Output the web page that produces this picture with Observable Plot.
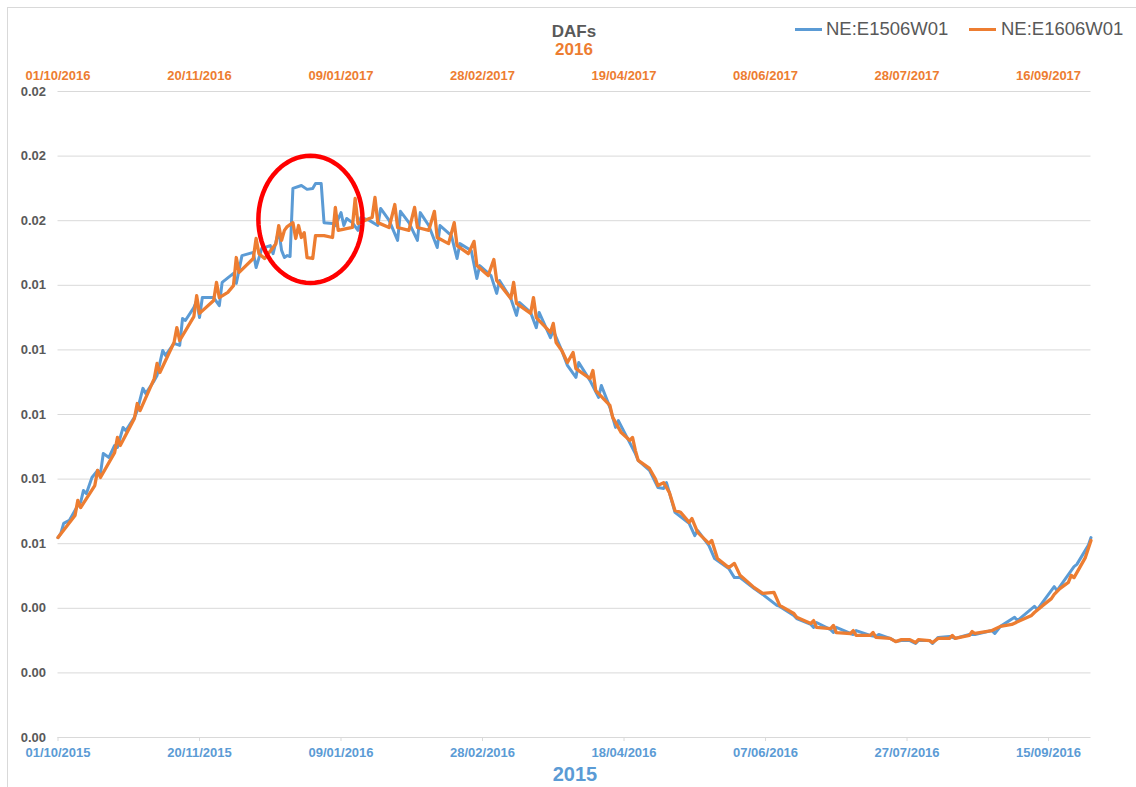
<!DOCTYPE html>
<html><head><meta charset="utf-8">
<script src="https://cdn.jsdelivr.net/npm/d3@7"></script>
<script src="https://cdn.jsdelivr.net/npm/@observablehq/plot@0.6"></script>
<style>
body{margin:0;background:#fff;font-family:"Liberation Sans",Arial,sans-serif;}
#wrap{position:relative;width:1136px;height:787px;overflow:hidden;background:#fff;}
#chart{position:absolute;left:0;top:0;}
#frame{position:absolute;left:7px;top:7px;width:1140px;height:800px;border:1px solid #d9d9d9;pointer-events:none;}
.ov{position:absolute;white-space:nowrap;}
.title{font-weight:bold;font-size:17px;line-height:17px;transform:translateX(-50%);}
.leg{font-size:18.5px;line-height:18px;color:#595959;}
.sw{position:absolute;height:3px;}
</style>
</head><body>
<div id="wrap">
  <div id="chart"></div>
  <div id="frame"></div>
  <div class="ov title" style="left:574px;top:23px;color:#595959;">DAFs</div>
  <div class="ov title" style="left:574px;top:41px;color:#ed7d31;">2016</div>
  <div class="sw" style="left:795px;top:28px;width:27px;background:#5b9bd5;"></div>
  <div class="ov leg" style="left:826px;top:20px;">NE:E1506W01</div>
  <div class="sw" style="left:969px;top:28px;width:27px;background:#ed7d31;"></div>
  <div class="ov leg" style="left:1001px;top:20px;">NE:E1606W01</div>
  <div class="ov" style="left:575px;top:764px;transform:translateX(-50%);font-weight:bold;font-size:20px;line-height:20px;color:#5b9bd5;">2015</div>
</div>
<script>
// ---- data ----
const startDate = "2015-10-01";
const seriesNames = ["NE:E1506W01", "NE:E1606W01"];

const blueDay = [0,1,2,4,6,7,8,9,10,12,14,15,16,18,20,21,23,24,27,28,30,31,34,35,37,38,41,43,44,45,48,49,50,51,55,57,58,62,63,65,69,70,72,75,76,78,79,80,81,82,83,86,88,90,91,93,94,97,98,100,101,102,104,106,107,110,113,114,117,120,121,124,127,128,131,134,135,139,141,142,146,148,149,153,155,156,160,162,163,167,169,170,174,175,178,180,183,184,188,191,192,195,197,198,202,204,205,209,212,214,215,216,218,223,225,226,230,232,233,237,239,241,246,249,254,255,260,261,266,267,268,273,274,275,280,281,282,287,289,290,294,296,298,301,303,304,308,309,311,315,317,322,324,330,331,333,338,339,345,346,352,353,359,360,364,365];
const blueVal = [0.00619,0.00632,0.00663,0.00672,0.00703,0.00718,0.00728,0.00765,0.00755,0.00805,0.00827,0.00817,0.00879,0.00867,0.00904,0.00898,0.00960,0.00950,0.00991,0.01012,0.01081,0.01065,0.01105,0.01121,0.01198,0.01183,0.01220,0.01214,0.01297,0.01291,0.01331,0.01353,0.01300,0.01362,0.01362,0.01337,0.01409,0.01437,0.01406,0.01492,0.01502,0.01455,0.01514,0.01523,0.01498,0.01570,0.01508,0.01486,0.01492,0.01489,0.01700,0.01709,0.01697,0.01700,0.01715,0.01715,0.01594,0.01591,0.01585,0.01625,0.01585,0.01607,0.01594,0.01570,0.01610,0.01601,0.01585,0.01638,0.01601,0.01539,0.01629,0.01594,0.01539,0.01625,0.01585,0.01517,0.01585,0.01554,0.01483,0.01529,0.01508,0.01421,0.01461,0.01430,0.01375,0.01415,0.01359,0.01307,0.01347,0.01316,0.01269,0.01316,0.01238,0.01260,0.01198,0.01152,0.01115,0.01161,0.01105,0.01053,0.01090,0.01022,0.00960,0.00981,0.00913,0.00879,0.00858,0.00827,0.00774,0.00771,0.00789,0.00759,0.00697,0.00663,0.00625,0.00641,0.00594,0.00554,0.00548,0.00523,0.00495,0.00495,0.00461,0.00443,0.00409,0.00406,0.00378,0.00368,0.00350,0.00341,0.00356,0.00334,0.00325,0.00341,0.00322,0.00319,0.00331,0.00316,0.00313,0.00319,0.00307,0.00297,0.00300,0.00300,0.00291,0.00300,0.00300,0.00291,0.00310,0.00313,0.00307,0.00319,0.00319,0.00331,0.00322,0.00344,0.00372,0.00362,0.00406,0.00396,0.00467,0.00455,0.00529,0.00536,0.00594,0.00619];

const orangeDay = [0,6,7,8,13,14,15,20,21,22,27,28,29,34,35,36,41,42,43,48,49,50,55,56,57,60,62,63,64,69,70,71,73,77,78,79,80,81,83,84,85,86,87,88,90,91,94,97,98,99,104,105,106,110,111,112,113,117,119,120,124,126,127,131,133,134,138,140,141,145,147,148,152,154,155,160,161,162,167,168,169,174,175,176,178,180,182,183,188,189,190,195,196,199,202,203,204,205,209,211,212,214,216,218,220,223,224,226,230,231,233,237,239,241,246,249,253,255,260,261,266,267,268,273,274,275,280,281,282,287,288,289,294,296,298,301,303,304,308,309,311,315,316,317,322,323,324,330,333,337,340,344,345,348,351,352,354,357,358,359,361,363,365];
const orangeVal = [0.00619,0.00687,0.00734,0.00712,0.00780,0.00827,0.00805,0.00882,0.00929,0.00904,0.00988,0.01034,0.01012,0.01111,0.01158,0.01130,0.01223,0.01269,0.01229,0.01303,0.01368,0.01313,0.01353,0.01409,0.01362,0.01378,0.01399,0.01486,0.01440,0.01483,0.01545,0.01498,0.01483,0.01529,0.01585,0.01539,0.01570,0.01582,0.01594,0.01545,0.01585,0.01548,0.01563,0.01486,0.01483,0.01554,0.01554,0.01548,0.01641,0.01570,0.01579,0.01669,0.01591,0.01607,0.01610,0.01672,0.01594,0.01579,0.01650,0.01579,0.01570,0.01641,0.01579,0.01570,0.01629,0.01548,0.01529,0.01594,0.01523,0.01498,0.01536,0.01461,0.01430,0.01480,0.01415,0.01359,0.01409,0.01344,0.01313,0.01362,0.01300,0.01254,0.01282,0.01223,0.01198,0.01161,0.01192,0.01142,0.01111,0.01136,0.01074,0.01028,0.00991,0.00944,0.00920,0.00929,0.00889,0.00858,0.00833,0.00802,0.00780,0.00789,0.00759,0.00703,0.00697,0.00666,0.00678,0.00635,0.00601,0.00610,0.00554,0.00526,0.00539,0.00502,0.00464,0.00446,0.00449,0.00409,0.00384,0.00372,0.00353,0.00362,0.00341,0.00337,0.00347,0.00325,0.00322,0.00331,0.00316,0.00316,0.00325,0.00310,0.00307,0.00297,0.00303,0.00303,0.00294,0.00303,0.00300,0.00294,0.00307,0.00307,0.00316,0.00307,0.00316,0.00328,0.00322,0.00331,0.00344,0.00350,0.00362,0.00378,0.00387,0.00409,0.00430,0.00443,0.00461,0.00480,0.00502,0.00495,0.00526,0.00557,0.00610];

const tickDays = [0,50,100,150,200,250,300,350];
const bottomTickLabels = ["01/10/2015","20/11/2015","09/01/2016","28/02/2016","18/04/2016","07/06/2016","27/07/2016","15/09/2016"];
const topTickLabels = ["01/10/2016","20/11/2016","09/01/2017","28/02/2017","19/04/2017","08/06/2017","28/07/2017","16/09/2017"];
const yTicks = [0,0.002,0.004,0.006,0.008,0.010,0.012,0.014,0.016,0.018,0.020];

// annotation ellipse (center day, center value, radius in days, radius in value)
const highlight = {day: 89.2, value: 0.01604, rDays: 18.4, rValue: 0.00197};

// ---- build ----
const t0 = new Date(startDate + "T00:00:00Z").getTime();
const toDate = d => new Date(t0 + d * 864e5);
const blue = blueDay.map((d, i) => ({date: toDate(d), value: blueVal[i]}));
const orange = orangeDay.map((d, i) => ({date: toDate(d), value: orangeVal[i]}));
const ticks = tickDays.map(toDate);
const idx = d => ticks.findIndex(t => t.getTime() === d.getTime());
const ellipse = d3.range(0, 72).map(k => {
  const a = k / 72 * 2 * Math.PI;
  return {date: toDate(highlight.day + highlight.rDays * Math.cos(a)), value: highlight.value + highlight.rValue * Math.sin(a)};
});

const chart = Plot.plot({
  width: 1136, height: 787,
  marginLeft: 57.5, marginRight: 45.5, marginTop: 91, marginBottom: 50,
  style: {fontFamily: "'Liberation Sans', Arial, sans-serif", fontSize: "13px", fontWeight: "bold", background: "transparent"},
  x: {type: "utc", domain: [toDate(0), toDate(365)]},
  y: {domain: [0, 0.02]},
  marks: [
    Plot.gridY(yTicks, {stroke: "#d9d9d9", strokeOpacity: 1, strokeWidth: 1}),
    Plot.axisY(yTicks, {tickSize: 0, tickPadding: 12, tickFormat: d3.format(".2f"), fill: "#595959", label: null}),
    Plot.axisX(ticks, {anchor: "bottom", tickSize: 4, tickPadding: 6, stroke: "#d9d9d9", strokeOpacity: 1,
      tickFormat: d => bottomTickLabels[idx(d)], fill: "#5b9bd5", label: null}),
    Plot.axisX(ticks, {anchor: "top", tickSize: 0, tickPadding: 12,
      tickFormat: d => topTickLabels[idx(d)], fill: "#ed7d31", label: null}),
    Plot.line(blue, {x: "date", y: "value", stroke: "#5b9bd5", strokeWidth: 3, strokeLinejoin: "round"}),
    Plot.line(orange, {x: "date", y: "value", stroke: "#ed7d31", strokeWidth: 3.3, strokeLinejoin: "round"}),
    Plot.line(ellipse, {x: "date", y: "value", curve: "linear-closed", stroke: "#ff0000", strokeWidth: 4.5})
  ]
});
document.getElementById("chart").appendChild(chart);
</script>
</body></html>
